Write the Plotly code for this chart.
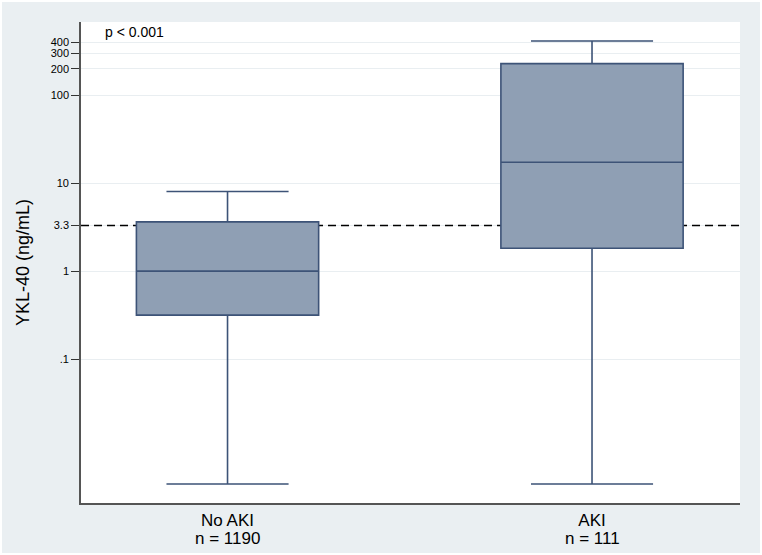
import plotly.graph_objects as go

# groups and box summary values (ng/mL)
groups = ["No AKI", "AKI"]
group_n = [1190, 111]
q1 = [0.316, 1.82]
median = [1.0, 17.3]
q3 = [3.63, 229]
lower_whisker = [0.0038, 0.0038]
upper_whisker = [8.05, 414]

cutoff = 3.3
tick_vals = [0.1, 1, 3.3, 10, 100, 200, 300, 400]
tick_text = [".1", "1", "3.3", "10", "100", "200", "300", "400"]

x_range = [-0.402, 1.406]
y_range = [-2.636, 2.833]  # log10 units

line_col = "#3d5377"
fill_col = "#8f9fb4"
bg_col = "#eaeff2"
font_fam = "Liberation Sans, Arial, Helvetica, sans-serif"

fig = go.Figure()

# cut-off line on the base axes so it sits above the grid but under the boxes
fig.add_trace(go.Scatter(
    x=x_range, y=[cutoff, cutoff], mode="lines",
    line=dict(color="#000000", width=1.5, dash="8px,5px"),
    showlegend=False, hoverinfo="skip", cliponaxis=True,
))

# boxes on an overlaid copy of the y axis (drawn on top)
for i, g in enumerate(groups):
    fig.add_trace(go.Box(
        x=[i], yaxis="y2",
        q1=[q1[i]], median=[median[i]], q3=[q3[i]],
        lowerfence=[lower_whisker[i]], upperfence=[upper_whisker[i]],
        name=g,
        width=0.5,
        whiskerwidth=0.67,
        fillcolor=fill_col,
        line=dict(color=line_col, width=1.6),
        boxpoints=False,
        showlegend=False,
        hoverinfo="skip",
    ))

fig.add_annotation(
    text="p < 0.001", xref="paper", yref="paper",
    x=0.033, y=0.979, xanchor="left", yanchor="middle",
    showarrow=False, font=dict(size=14, color="black", family=font_fam),
)

# sample sizes under the group names
for i, n in enumerate(group_n):
    fig.add_annotation(
        text=f"n = {n}", xref="x", yref="paper",
        x=i, y=-0.073, xanchor="center", yanchor="middle",
        showarrow=False, font=dict(size=17, color="black", family=font_fam),
    )

fig.update_layout(
    width=758, height=551,
    margin=dict(l=79, r=20, t=20, b=50),
    paper_bgcolor=bg_col,
    plot_bgcolor="white",
    font=dict(family=font_fam),
    xaxis=dict(
        range=x_range,
        tickvals=list(range(len(groups))),
        ticktext=groups,
        tickfont=dict(size=17, color="black", family=font_fam),
        showgrid=False, zeroline=False,
        showline=True, linecolor="#555555", linewidth=1.6,
        ticks="", ticklabelstandoff=1,
        automargin=False,
    ),
    yaxis=dict(
        type="log",
        range=y_range,
        tickvals=tick_vals, ticktext=tick_text,
        tickfont=dict(size=11, color="black", family=font_fam),
        ticks="outside", ticklen=8, tickcolor="#333333", tickwidth=1.2,
        showgrid=True, gridcolor="#e9eef1", gridwidth=1.2,
        showline=True, linecolor="#555555", linewidth=1.6,
        zeroline=False,
        title=dict(text="YKL-40 (ng/mL)", standoff=16,
                   font=dict(size=18, color="black", family=font_fam)),
        automargin=False,
    ),
    yaxis2=dict(
        type="log", range=y_range, overlaying="y", side="left",
        visible=False, showgrid=False, zeroline=False,
    ),
)

# thin white page border like the original export, no default 8px body margin
fig.write_html(
    "out.html",
    post_script="document.body.style.margin='2px';"
                "document.body.style.background='white';"
                "document.body.style.overflow='hidden';",
)
